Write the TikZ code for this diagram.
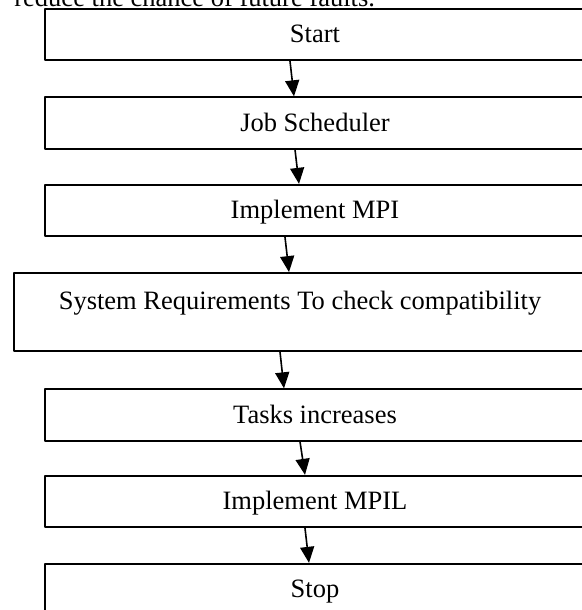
\documentclass[tikz,border=0pt]{standalone}
\usepackage{fontspec}
\setmainfont{Liberation Serif}
\usetikzlibrary{arrows.meta}

\begin{document}
\begin{tikzpicture}[line cap=round,line join=round,>={Triangle[width=7pt,length=8pt]},x=0.5pt,y=-0.5pt,
  font=\fontsize{13.25}{15}\selectfont,
  flowbox/.style={draw,line width=0.9pt,minimum width=270pt,minimum height=25.75pt,inner sep=0pt,text height=1em,text depth=0.19em},
  flowarrow/.style={->,line width=0.8pt}]
\useasboundingbox (0,0) rectangle (582,610);
\clip (0,0) rectangle (582,610);
% last line of the paragraph above
\node[anchor=base west,inner sep=0pt] (prevline) at (14,7) {reduce the chance of future faults.};
% the steps
\node[flowbox] (start) at (315,34.5) {Start};
\node[flowbox] (job) at (315,123) {Job Scheduler};
\node[flowbox] (mpi) at (315,210.5) {Implement MPI};
\node[flowbox,minimum width=286pt,minimum height=39pt] (req) at (300,312) {};
\node[anchor=base,inner sep=0pt] (reqtext) at (300,309) {System Requirements To check compatibility};
\node[flowbox] (tasks) at (315,415) {Tasks increases};
\node[flowbox] (mpil) at (315,501.5) {Implement MPIL};
\node[flowbox] (stop) at (315,589.5) {Stop};
% arrows between the steps
\draw[flowarrow] ([xshift=-12.5pt]start.south) -- ([xshift=-10.5pt]job.north);
\draw[flowarrow] ([xshift=-10pt]job.south) -- ([xshift=-8pt]mpi.north);
\draw[flowarrow] ([xshift=-15pt]mpi.south) -- ([xshift=-5.5pt]req.north);
\draw[flowarrow] ([xshift=-10pt]req.south) -- ([xshift=-15.5pt]tasks.north);
\draw[flowarrow] ([xshift=-7.5pt]tasks.south) -- ([xshift=-5pt]mpil.north);
\draw[flowarrow] ([xshift=-5pt]mpil.south) -- ([xshift=-3pt]stop.north);
\end{tikzpicture}
\end{document}
